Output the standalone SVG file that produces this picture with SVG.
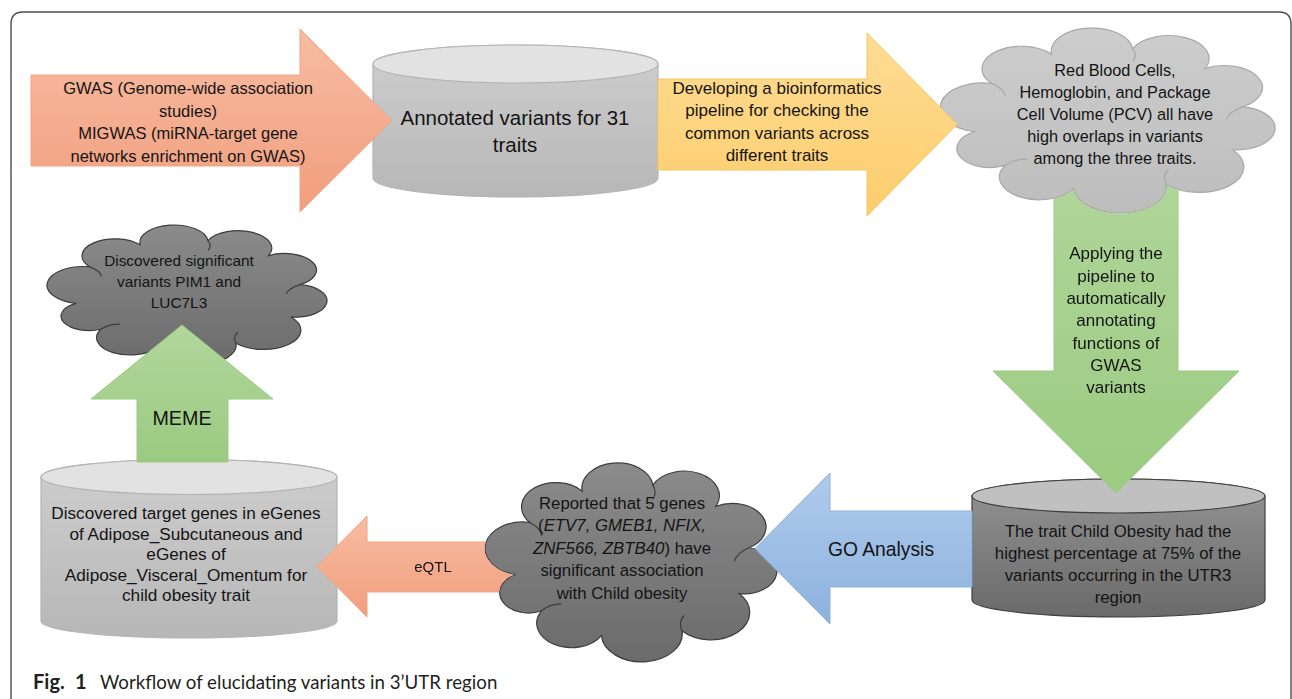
<svg xmlns="http://www.w3.org/2000/svg" xmlns:xlink="http://www.w3.org/1999/xlink" width="1292" height="699" viewBox="0 0 1292 699">
<style>
.t{font-family:"Liberation Sans",Arial,sans-serif;fill:#141414;text-anchor:middle}
.cap{font-family:Lato,"Liberation Sans",sans-serif;fill:#231f20}
.cl{stroke:#a8a8a8;stroke-width:1.2}
.cd{stroke:#3c3c3c;stroke-width:1.2}
.ci{fill:none}
.cylL{stroke:#b4b4b4;stroke-width:1.2}
.cylD{stroke:#3f3f3f;stroke-width:1.2}
.ar{stroke-width:1}
</style>
<defs>
<path id="cloud" vector-effect="non-scaling-stroke" d="M10.6,56.4 A1,1 0 0 1 15.4,31.5 A1,1 0 0 1 33.1,16.5 A1,1 0 0 1 57,13.6 A1,1 0 0 1 78.3,23.8 A1,1 0 0 1 89.4,43.6 A1,1 0 0 1 86.2,65.6 A1,1 0 0 1 66.9,83.5 A1,1 0 0 1 39.6,85.7 A1,1 0 0 1 19.4,73.8 A1,1 0 0 1 10.6,56.4 Z"/>
<path id="cloudIn" vector-effect="non-scaling-stroke" fill="none" d="M15.4,31.5 Q19,34 19.5,38 M57,13.6 Q58.5,17 57,20.5 M89.4,43.6 Q85.5,46 84.5,50 M66.9,83.5 Q65.5,79.5 67.5,76 M19.4,73.8 Q22,70.5 26,70.5"/>
<linearGradient id="gCloudL" x1="0" y1="0" x2="0" y2="1"><stop offset="0" stop-color="#cdcdcd"/><stop offset="1" stop-color="#bdbdbd"/></linearGradient>
<linearGradient id="gCloudD" x1="0" y1="0" x2="0" y2="1"><stop offset="0" stop-color="#8b8b8b"/><stop offset="1" stop-color="#6b6b6b"/></linearGradient>
<linearGradient id="gCylL" x1="0" y1="0" x2="0" y2="1"><stop offset="0" stop-color="#cecece"/><stop offset="1" stop-color="#b7b7b7"/></linearGradient>
<linearGradient id="gCylD" x1="0" y1="0" x2="0" y2="1"><stop offset="0" stop-color="#949494"/><stop offset="1" stop-color="#6a6a6a"/></linearGradient>
<linearGradient id="gOr" x1="0" y1="0" x2="0" y2="1"><stop offset="0" stop-color="#f7bca2"/><stop offset="1" stop-color="#f19e7d"/></linearGradient>
<linearGradient id="gYe" x1="0" y1="0" x2="0" y2="1"><stop offset="0" stop-color="#ffdc94"/><stop offset="1" stop-color="#fccd6c"/></linearGradient>
<linearGradient id="gGr" x1="0" y1="0" x2="0" y2="1"><stop offset="0" stop-color="#b2d69c"/><stop offset="1" stop-color="#9acb80"/></linearGradient>
<linearGradient id="gBl" x1="0" y1="0" x2="0" y2="1"><stop offset="0" stop-color="#aecbeb"/><stop offset="1" stop-color="#8db2df"/></linearGradient>
<mask id="mCloud1" maskUnits="userSpaceOnUse" x="0" y="0" width="1292" height="699">
<rect x="0" y="0" width="1292" height="699" fill="#fff"/>
<use xlink:href="#cloud" href="#cloud" transform="translate(939,22.2) scale(3.398,1.941)" fill="#000" stroke="#000"/>
</mask>
<mask id="mCloud2" maskUnits="userSpaceOnUse" x="0" y="0" width="1292" height="699">
<rect x="0" y="0" width="1292" height="699" fill="#fff"/>
<use xlink:href="#cloud" href="#cloud" transform="translate(484.1,456.7) scale(2.961,2.088)" fill="#000" stroke="#000"/>
</mask>
</defs>

<rect x="0" y="0" width="1292" height="699" fill="#fff"/>
<path id="frame" d="M11,699 V24 Q11,12 23,12 H1279 Q1291,12 1291,24 V699" fill="none" stroke="#4d4d4d" stroke-width="1.4"/>

<g id="nodes">
<g id="cyl-annotated">
<path class="cylL" fill="url(#gCylL)" d="M373,64 V178 A142.5,19 0 0 0 658,178 V64 A142.5,19 0 0 0 373,64 Z"/>
<ellipse class="cylL" cx="515.5" cy="64" rx="142.5" ry="19" fill="#e2e2e2"/>
<text class="t" font-size="20.5" x="515" y="125">Annotated variants for 31</text>
<text class="t" font-size="20.5" x="515" y="152">traits</text>
</g>
<g id="cloud-rbc">
<use xlink:href="#cloud" href="#cloud" class="cl" fill="url(#gCloudL)" transform="translate(939,22.2) scale(3.398,1.941)"/>
<use xlink:href="#cloudIn" href="#cloudIn" class="cl ci" transform="translate(939,22.2) scale(3.398,1.941)"/>
<text class="t" font-size="16.3" x="1115" y="76">Red Blood Cells,</text>
<text class="t" font-size="16.3" x="1115" y="98">Hemoglobin, and Package</text>
<text class="t" font-size="16.3" x="1115" y="120">Cell Volume (PCV) all have</text>
<text class="t" font-size="16.3" x="1115" y="142">high overlaps in variants</text>
<text class="t" font-size="16.3" x="1115" y="164">among the three traits.</text>
</g>
<g id="cyl-childobesity">
<path class="cylD" fill="url(#gCylD)" d="M972,496 V600 A146.5,17 0 0 0 1265,600 V496 A146.5,17 0 0 0 972,496 Z"/>
<ellipse class="cylD" cx="1118.5" cy="496" rx="146.5" ry="17" fill="#c0c0c0"/>
<text class="t" font-size="16.8" x="1118" y="537">The trait Child Obesity had the</text>
<text class="t" font-size="16.8" x="1118" y="559">highest percentage at 75% of the</text>
<text class="t" font-size="16.8" x="1118" y="581">variants occurring in the UTR3</text>
<text class="t" font-size="16.8" x="1118" y="603">region</text>
</g>
<g id="cloud-genes">
<use xlink:href="#cloud" href="#cloud" class="cd" fill="url(#gCloudD)" transform="translate(484.1,456.7) scale(2.961,2.088)"/>
<use xlink:href="#cloudIn" href="#cloudIn" class="cd ci" transform="translate(484.1,456.7) scale(2.961,2.088)"/>
<text class="t" font-size="16.8" x="622" y="509">Reported that 5 genes</text>
<text class="t" font-size="16.8" x="622" y="531">(<tspan font-style="italic">ETV7, GMEB1, NFIX,</tspan></text>
<text class="t" font-size="16.8" x="622" y="554"><tspan font-style="italic">ZNF566, ZBTB40</tspan>) have</text>
<text class="t" font-size="16.8" x="622" y="576">significant association</text>
<text class="t" font-size="16.8" x="622" y="599">with Child obesity</text>
</g>
<g id="cyl-egenes">
<path class="cylL" fill="url(#gCylL)" d="M41,477 V621 A148,17 0 0 0 337,621 V477 A148,17.5 0 0 0 41,477 Z"/>
<ellipse class="cylL" cx="189" cy="477" rx="148" ry="17.5" fill="#e2e2e2"/>
<text class="t" font-size="17.2" x="186" y="519">Discovered target genes in eGenes</text>
<text class="t" font-size="17.2" x="186" y="539.5">of Adipose_Subcutaneous and</text>
<text class="t" font-size="17.2" x="186" y="560">eGenes of</text>
<text class="t" font-size="17.2" x="186" y="580.5">Adipose_Visceral_Omentum for</text>
<text class="t" font-size="17.2" x="186" y="601">child obesity trait</text>
</g>
<g id="cloud-pim1">
<use xlink:href="#cloud" href="#cloud" class="cd" fill="url(#gCloudD)" transform="translate(46.1,220.6) scale(2.840,1.469)"/>
<use xlink:href="#cloudIn" href="#cloudIn" class="cd ci" transform="translate(46.1,220.6) scale(2.840,1.469)"/>
<text class="t" font-size="15.4" x="179" y="266">Discovered significant</text>
<text class="t" font-size="15.4" x="179" y="287">variants PIM1 and</text>
<text class="t" font-size="15.4" x="179" y="308">LUC7L3</text>
</g>
</g>

<g id="connectors">
<g id="arrow-gwas">
<polygon class="ar" fill="url(#gOr)" stroke="#f0a383" points="31,75 300,75 300,29 392,120.5 300,212 300,166 31,166"/>
<text class="t" font-size="16.5" x="188" y="94">GWAS (Genome-wide association</text>
<text class="t" font-size="16.5" x="188" y="116.5">studies)</text>
<text class="t" font-size="16.5" x="188" y="139">MIGWAS (miRNA-target gene</text>
<text class="t" font-size="16.5" x="188" y="161.5">networks enrichment on GWAS)</text>
</g>
<g id="arrow-pipeline">
<polygon class="ar" fill="url(#gYe)" stroke="#f5c865" points="658,79 867,79 867,33 957,124.5 867,216 867,170 658,170"/>
<text class="t" font-size="17" x="777" y="94">Developing a bioinformatics</text>
<text class="t" font-size="17" x="777" y="116">pipeline for checking the</text>
<text class="t" font-size="17" x="777" y="139">common variants across</text>
<text class="t" font-size="17" x="777" y="161">different traits</text>
</g>
<g id="arrow-apply" mask="url(#mCloud1)">
<polygon class="ar" fill="url(#gGr)" stroke="#9ccb84" points="1054,150 1178,150 1178,371 1239,371 1116,493 993,371 1054,371"/>
<text class="t" font-size="17" x="1116" y="259">Applying the</text>
<text class="t" font-size="17" x="1116" y="282">pipeline to</text>
<text class="t" font-size="17" x="1116" y="304">automatically</text>
<text class="t" font-size="17" x="1116" y="326">annotating</text>
<text class="t" font-size="17" x="1116" y="349">functions of</text>
<text class="t" font-size="17" x="1116" y="371">GWAS</text>
<text class="t" font-size="17" x="1116" y="393">variants</text>
</g>
<g id="arrow-go">
<polygon class="ar" fill="url(#gBl)" stroke="#8fb3df" points="972,511 830,511 830,473 755,548.5 830,624 830,587 972,587"/>
<text class="t" font-size="19.3" x="881" y="556">GO Analysis</text>
</g>
<g id="arrow-eqtl" mask="url(#mCloud2)">
<polygon class="ar" fill="url(#gOr)" stroke="#f0a383" points="520,542 367,542 367,516 317,566.5 367,617 367,592 520,592"/>
<text class="t" font-size="15" x="433" y="572">eQTL</text>
</g>
<g id="arrow-meme">
<polygon class="ar" fill="url(#gGr)" stroke="#9ccb84" points="137,462 137,399 91,399 182,325 273,399 228,399 228,462"/>
<text class="t" font-size="19.7" x="182" y="425">MEME</text>
</g>
</g>

<text class="cap" x="33" y="689" font-size="18.7"><tspan font-weight="bold" font-size="20">Fig.</tspan><tspan x="75" font-weight="bold" font-size="20">1</tspan><tspan x="100">Workflow of elucidating variants in 3’UTR region</tspan></text>
</svg>
